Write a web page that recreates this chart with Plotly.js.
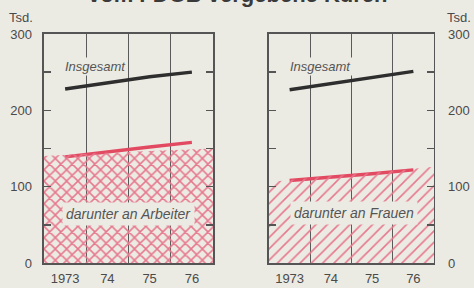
<!DOCTYPE html>
<html><head><meta charset="utf-8">
<script src="https://cdn.plot.ly/plotly-3.0.1.min.js"></script>
<style>html,body{margin:0;padding:0;background:#ecebe3;}#c{width:474px;height:288px;}</style>
</head><body><div id="c"></div>
<script>
const years = [1973, 1974, 1975, 1976];
const yearLabels = ['1973', '74', '75', '76'];
const insgesamtLinks = [228, 236, 244, 250];
const arbeiter = [139, 146, 152, 158];
const insgesamtRechts = [227, 235, 244, 251];
const frauen = [108, 112, 117, 122];
// shaded area under the red curves, spanning the full panel width
const flaecheArbeiter = [140, 144, 147, 150];
const flaecheFrauen = [106, 113, 119, 126];
const yTicks = [0, 50, 100, 150, 200, 250, 300];
const yTickText = ['0', '', '100', '', '200', '', '300'];

const bg = '#ecebe3', ink = '#4a4a4a', red = '#e24a62', black = '#2e2e2e';
const fam = 'Liberation Sans, Arial, sans-serif';

const traces = [
  {x: years, y: flaecheArbeiter, xaxis: 'x3', yaxis: 'y', type: 'scatter', mode: 'none',
   fill: 'tozeroy', fillcolor: 'rgba(0,0,0,0)',
   fillpattern: {shape: 'x', fgcolor: '#e6788e', bgcolor: 'rgba(0,0,0,0)', size: 8, solidity: 0.35}, hoverinfo: 'skip'},
  {x: years, y: flaecheFrauen, xaxis: 'x4', yaxis: 'y2', type: 'scatter', mode: 'none',
   fill: 'tozeroy', fillcolor: 'rgba(0,0,0,0)',
   fillpattern: {shape: '/', fgcolor: '#e6788e', bgcolor: 'rgba(0,0,0,0)', size: 8, solidity: 0.2}, hoverinfo: 'skip'},
  {x: years, y: insgesamtLinks, xaxis: 'x', yaxis: 'y', mode: 'lines', line: {color: black, width: 3.4}},
  {x: years, y: arbeiter, xaxis: 'x', yaxis: 'y', mode: 'lines', line: {color: red, width: 3.4}},
  {x: years, y: insgesamtRechts, xaxis: 'x2', yaxis: 'y2', mode: 'lines', line: {color: black, width: 3.4}},
  {x: years, y: frauen, xaxis: 'x2', yaxis: 'y2', mode: 'lines', line: {color: red, width: 3.4}}
];

const xBase = {
  range: [1972.5, 1976.5], tickmode: 'array', tickvals: years, ticktext: yearLabels,
  showgrid: false, zeroline: false, showline: true, mirror: true, linecolor: '#555', linewidth: 1.5,
  ticks: '', ticklabelstandoff: 3,
  tickfont: {family: fam, size: 13, color: ink},
  minor: {tickmode: 'array', tickvals: [1973.5, 1974.5, 1975.5], showgrid: true, gridcolor: '#5a5a5a', gridwidth: 1.3, ticks: ''},
  fixedrange: true
};
const yBase = {
  range: [0, 300], tickmode: 'array', tickvals: yTicks, ticktext: yTickText,
  showgrid: false, zeroline: false, showline: true, mirror: 'ticks', linecolor: '#555', linewidth: 1.5,
  ticks: 'inside', ticklen: 7, tickwidth: 1.5, tickcolor: '#555',
  tickfont: {family: fam, size: 13, color: ink},
  domain: [0.0868, 0.882], fixedrange: true
};

const layout = {
  width: 474, height: 288, margin: {l: 0, r: 0, t: 0, b: 0},
  paper_bgcolor: bg, plot_bgcolor: 'rgba(0,0,0,0)', showlegend: false,
  xaxis: Object.assign({}, xBase, {domain: [0.0928, 0.4494], anchor: 'y'}),
  xaxis2: Object.assign({}, xBase, {domain: [0.5675, 0.9156], anchor: 'y2'}),
  xaxis3: {range: [1973, 1976], overlaying: 'x', visible: false, anchor: 'y'},
  xaxis4: {range: [1973, 1976], overlaying: 'x2', visible: false, anchor: 'y2'},
  yaxis: Object.assign({}, yBase, {anchor: 'x', side: 'left', ticklabelstandoff: 8}),
  yaxis2: Object.assign({}, yBase, {anchor: 'x2', side: 'right', ticklabelstandoff: 10}),
  annotations: [
    {text: '<b>vom FDGB vergebene Kuren</b>', xref: 'paper', yref: 'paper', x: 0.502, y: 1.0, yshift: -9,
     xanchor: 'center', yanchor: 'bottom', showarrow: false, font: {family: fam, size: 22, color: '#3a3a3a'}},
    {text: 'Tsd.', xref: 'paper', yref: 'paper', x: 21 / 474, y: 1 - 17 / 288, xanchor: 'center', yanchor: 'middle', showarrow: false,
     font: {family: fam, size: 13, color: ink}},
    {text: 'Tsd.', xref: 'paper', yref: 'paper', x: 459 / 474, y: 1 - 17 / 288, xanchor: 'center', yanchor: 'middle', showarrow: false,
     font: {family: fam, size: 13, color: ink}},
    {text: '<i>Insgesamt</i>', xref: 'x', yref: 'y', x: 1973, y: 257, xanchor: 'left', yanchor: 'middle', xshift: -2, showarrow: false,
     bgcolor: bg, borderpad: 1, font: {family: fam, size: 13, color: '#555'}},
    {text: '<i>Insgesamt</i>', xref: 'x2', yref: 'y2', x: 1973, y: 257, xanchor: 'left', yanchor: 'middle', xshift: -2, showarrow: false,
     bgcolor: bg, borderpad: 1, font: {family: fam, size: 13, color: '#555'}},
    {text: '<i>darunter an Arbeiter</i>', xref: 'x', yref: 'y', x: 1974.5, y: 64, xanchor: 'center', yanchor: 'middle', showarrow: false,
     bgcolor: bg, borderpad: 3, font: {family: fam, size: 14, color: '#555'}},
    {text: '<i>darunter an Frauen</i>', xref: 'x2', yref: 'y2', x: 1974.55, y: 65, xanchor: 'center', yanchor: 'middle', showarrow: false,
     bgcolor: bg, borderpad: 3, font: {family: fam, size: 14, color: '#555'}}
  ]
};

Plotly.newPlot('c', traces, layout, {staticPlot: true, displayModeBar: false});
</script></body></html>
